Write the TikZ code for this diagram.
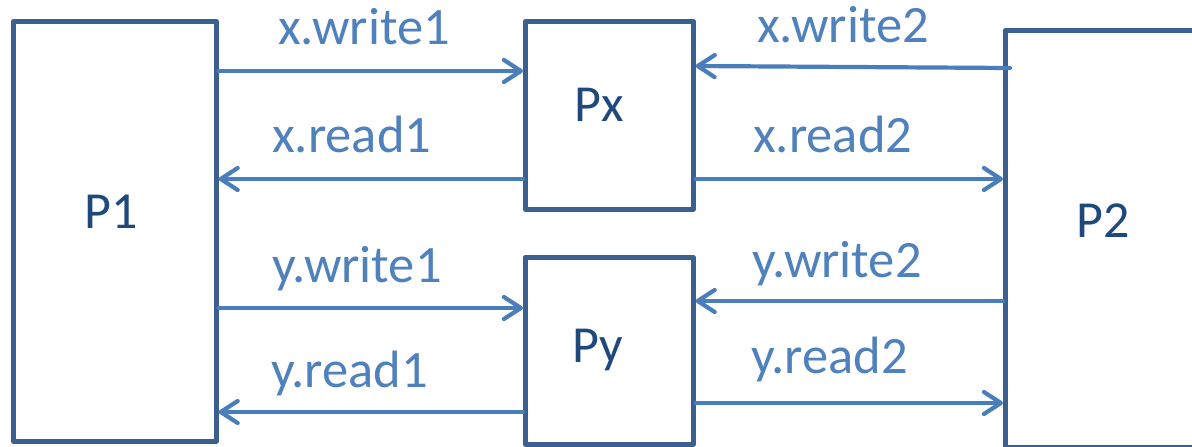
\documentclass[tikz,border=0pt]{standalone}
\usepackage{fontspec}
\setmainfont{Carlito}
\usetikzlibrary{arrows.meta}
\definecolor{boxc}{HTML}{3B5F8E}
\definecolor{arrc}{HTML}{4A7EBB}
\definecolor{lblc}{HTML}{4F81BD}
\definecolor{namec}{HTML}{1F497D}
\begin{document}
\begin{tikzpicture}[x=1pt,y=-1pt,
  proc/.style={draw=boxc,line width=4.6pt,line join=round,fill=white,inner sep=0pt,anchor=north west},
  conn/.style={draw=arrc,line width=4.2pt,line cap=round,-{Straight Barb[length=17pt,width=22pt,line cap=round,line join=round]}},
  lbl/.style={text=lblc,font=\fontsize{52.5}{60}\selectfont,anchor=base west,inner sep=0pt},
  nm/.style={text=namec,font=\fontsize{52}{60}\selectfont,anchor=base,inner sep=0pt}]
\clip (0,0) rectangle (1192,447);
\fill[white] (0,0) rectangle (1192,447);
\node[proc,minimum width=203pt,minimum height=420pt] (P1) at (11,19) {};
\node[proc,minimum width=168pt,minimum height=188pt] (Px) at (523,19) {};
\node[proc,minimum width=168pt,minimum height=187pt] (Py) at (523,255) {};
\node[proc,minimum width=220pt,minimum height=417pt] (P2) at (1003,28) {};
\node[nm] (tP1) at (111,228) {P1};
\node[nm] (tPx) at (599,121) {Px};
\node[nm] (tPy) at (598,362) {Py};
\node[nm] (tP2) at (1103,237) {P2};
% connectors
\coordinate (w2s) at (1010,68);
\draw[conn] (P1.east |- 0,71) -- (Px.west |- 0,71);
\draw[conn] (Px.west |- 0,179) -- (P1.east |- 0,179);
\draw[conn] (w2s) -- (Px.east |- 0,66);
\draw[conn] (Px.east |- 0,179) -- (P2.west |- 0,179);
\draw[conn] (P1.east |- 0,308) -- (Py.west |- 0,308);
\draw[conn] (Py.west |- 0,412) -- (P1.east |- 0,412);
\draw[conn] (P2.west |- 0,301) -- (Py.east |- 0,301);
\draw[conn] (Py.east |- 0,403) -- (P2.west |- 0,403);
% labels
\node[lbl] (l1) at (278,44) {x.write1};
\node[lbl] (l2) at (272,152) {x.read1};
\node[lbl] (l3) at (757,42) {x.write2};
\node[lbl] (l4) at (753,152) {x.read2};
\node[lbl] (l5) at (272,282) {y.write1};
\node[lbl] (l6) at (271,387) {y.read1};
\node[lbl] (l7) at (752,277) {y.write2};
\node[lbl] (l8) at (751,373) {y.read2};
\end{tikzpicture}
\end{document}
